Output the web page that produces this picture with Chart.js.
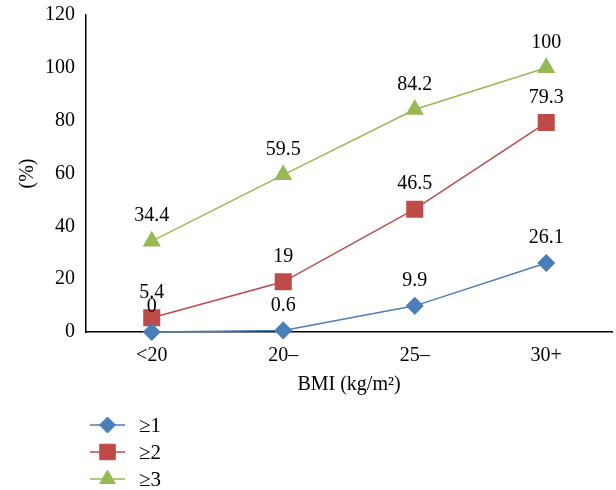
<!DOCTYPE html>
<html>
<head>
<meta charset="utf-8">
<script src="https://cdn.jsdelivr.net/npm/chart.js@4"></script>
<style>
  html, body { margin: 0; padding: 0; background: #fff; }
  #wrap { width: 616px; height: 490px; }
</style>
</head>
<body>
<div id="wrap"><canvas id="chart" width="616" height="490"></canvas></div>
<script>
const categories = ['<20', '20\u2013', '25\u2013', '30+'];
const seriesNames = ['\u22651', '\u22652', '\u22653'];
const values1 = [0, 0.6, 9.9, 26.1];
const values2 = [5.4, 19, 46.5, 79.3];
const values3 = [34.4, 59.5, 84.2, 100];
const yTicks = [0, 20, 40, 60, 80, 100, 120];

const FONT = '"Liberation Serif", "DejaVu Serif", serif';

// numbers above each point
const pointLabels = {
  id: 'pointLabels',
  afterDatasetsDraw(chart) {
    const ctx = chart.ctx;
    ctx.save();
    ctx.font = '20px ' + FONT;
    ctx.fillStyle = '#000';
    ctx.textAlign = 'center';
    ctx.textBaseline = 'middle';
    chart.data.datasets.forEach((ds, i) => {
      chart.getDatasetMeta(i).data.forEach((pt, j) => {
        ctx.fillText(String(ds.data[j]), pt.x, pt.y - 25);
      });
    });
    ctx.restore();
  }
};

// vertical legend in the bottom left
const sideLegend = {
  id: 'sideLegend',
  afterDraw(chart) {
    const ctx = chart.ctx;
    ctx.save();
    chart.data.datasets.forEach((ds, i) => {
      const y = 425 + i * 27;
      ctx.strokeStyle = ds.borderColor;
      ctx.lineWidth = 1.5;
      ctx.beginPath();
      ctx.moveTo(90, y);
      ctx.lineTo(125, y);
      ctx.stroke();
      ctx.fillStyle = ds.pointBackgroundColor;
      ctx.strokeStyle = ds.pointBorderColor;
      ctx.lineWidth = 1;
      Chart.helpers.drawPoint(ctx, {
        pointStyle: ds.pointStyle,
        radius: ds.pointRadius,
        borderWidth: 1
      }, 107.5, y);
      ctx.fillStyle = '#000';
      ctx.font = '21px ' + FONT;
      ctx.textAlign = 'left';
      ctx.textBaseline = 'middle';
      ctx.fillText(ds.label, 139, y + 1);
    });
    ctx.restore();
  }
};

function series(label, data, color, style, r) {
  return {
    label: label,
    data: data,
    borderColor: color,
    backgroundColor: color,
    pointBackgroundColor: color,
    pointBorderColor: color,
    pointStyle: style,
    pointRadius: r,
    pointHoverRadius: r,
    borderWidth: 1.5,
    tension: 0,
    clip: false
  };
}

new Chart(document.getElementById('chart'), {
  type: 'line',
  data: {
    labels: categories,
    datasets: [
      series(seriesNames[0], values1, '#4a7ebb', 'rectRot', 8),
      series(seriesNames[1], values2, '#be4b48', 'rect', 11),
      series(seriesNames[2], values3, '#98b954', 'triangle', 9)
    ]
  },
  options: {
    responsive: false,
    animation: false,
    layout: { autoPadding: false, padding: { top: 0, right: 4, bottom: 89, left: 16 } },
    plugins: { legend: { display: false }, tooltip: { enabled: false } },
    scales: {
      x: {
        offset: true,
        grid: { display: false, drawTicks: false },
        border: { color: '#000', width: 1.5 },
        ticks: { color: '#000', font: { family: FONT, size: 20 }, padding: 12 },
        title: { display: true, text: 'BMI (kg/m\u00b2)', color: '#000', font: { family: FONT, size: 20 }, padding: { top: 5 } },
        afterFit(scale) {
          scale.height -= 12;
          scale.paddingLeft = 0;
          scale.paddingRight = 0;
        }
      },
      y: {
        min: 0,
        max: 120,
        afterBuildTicks(axis) { axis.ticks = yTicks.map(v => ({ value: v })); },
        grid: { display: false, drawTicks: false },
        border: { color: '#000', width: 1.5 },
        ticks: { color: '#000', font: { family: FONT, size: 20 }, padding: 11 },
        title: { display: true, text: '(%)', color: '#000', font: { family: FONT, size: 20 }, padding: 0 },
        afterFit(scale) {
          scale.width = 70;
          scale.paddingTop = 15;
        }
      }
    }
  },
  plugins: [pointLabels, sideLegend]
});
</script>
</body>
</html>
